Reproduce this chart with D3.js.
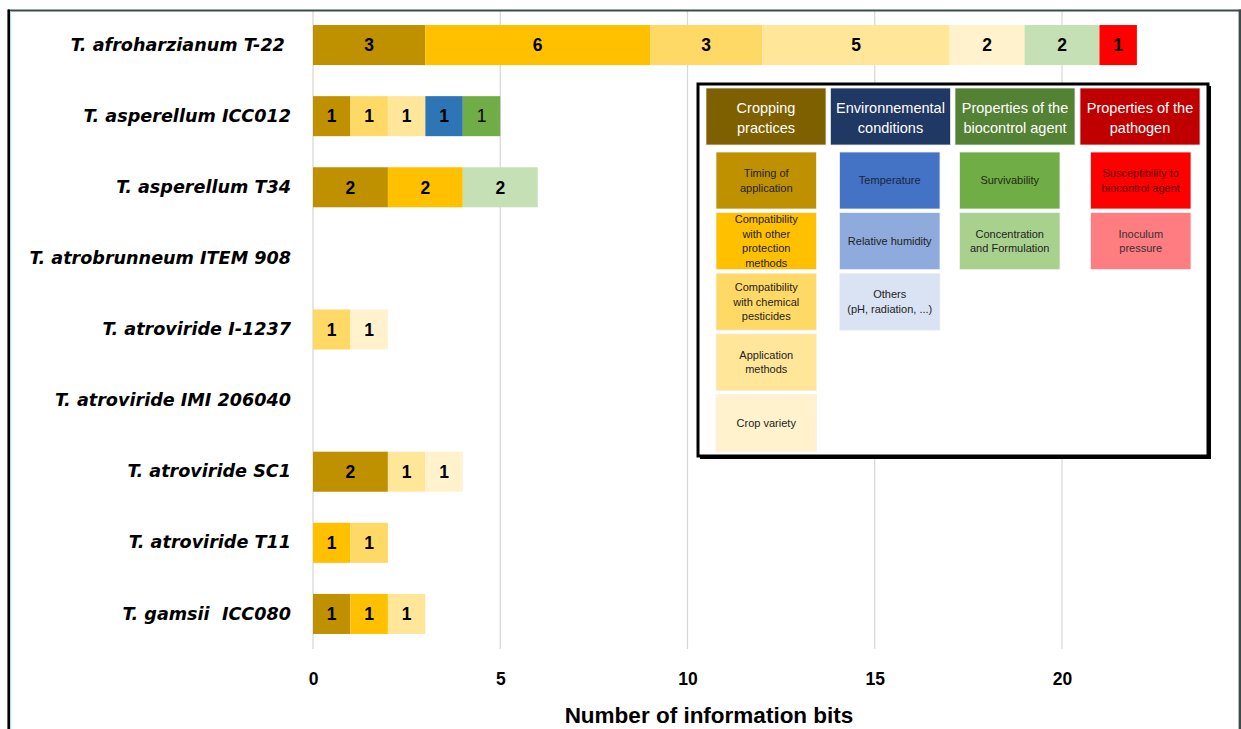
<!DOCTYPE html>
<html>
<head>
<meta charset="utf-8">
<script src="https://cdn.jsdelivr.net/npm/d3@7/dist/d3.min.js"></script>
<style>
  html, body { margin: 0; padding: 0; background: #fff; }
  svg { display: block; }
  text { white-space: pre; }
</style>
</head>
<body>
<svg id="chart" width="1241" height="729"></svg>
<script>
// ---------- DATA ----------
const categories = [
  "T. afroharzianum T-22 ",
  "T. asperellum ICC012",
  "T. asperellum T34",
  "T. atrobrunneum ITEM 908",
  "T. atroviride I-1237",
  "T. atroviride IMI 206040",
  "T. atroviride SC1",
  "T. atroviride T11",
  "T. gamsii  ICC080"
];

const seriesNames = [
  "Timing of application",
  "Compatibility with other protection methods",
  "Compatibility with chemical pesticides",
  "Application methods",
  "Crop variety",
  "Temperature",
  "Relative humidity",
  "Others (pH, radiation, ...)",
  "Survivability",
  "Concentration and Formulation",
  "Susceptibility to biocontrol agent",
  "Inoculum pressure"
];

// values per series, in category order
const timingOfApplication   = [3, 1, 2, 0, 0, 0, 2, 0, 1];
const compatOtherMethods    = [6, 0, 2, 0, 0, 0, 0, 1, 1];
const compatChemPesticides  = [3, 1, 0, 0, 1, 0, 0, 1, 0];
const applicationMethods    = [5, 1, 0, 0, 0, 0, 1, 0, 1];
const cropVariety           = [2, 0, 0, 0, 1, 0, 1, 0, 0];
const temperature           = [0, 1, 0, 0, 0, 0, 0, 0, 0];
const relativeHumidity      = [0, 0, 0, 0, 0, 0, 0, 0, 0];
const othersEnv             = [0, 0, 0, 0, 0, 0, 0, 0, 0];
const survivability         = [0, 1, 0, 0, 0, 0, 0, 0, 0];
const concentrationForm     = [2, 0, 2, 0, 0, 0, 0, 0, 0];
const susceptibility        = [1, 0, 0, 0, 0, 0, 0, 0, 0];
const inoculumPressure      = [0, 0, 0, 0, 0, 0, 0, 0, 0];

const seriesValues = [
  timingOfApplication, compatOtherMethods, compatChemPesticides, applicationMethods,
  cropVariety, temperature, relativeHumidity, othersEnv, survivability,
  concentrationForm, susceptibility, inoculumPressure
];

const xTickValues = [0, 5, 10, 15, 20];
const xAxisTitle = "Number of information bits";

// legend groups
const groupNames = [
  ["Cropping", "practices"],
  ["Environnemental", "conditions"],
  ["Properties of the", "biocontrol agent"],
  ["Properties of the", "pathogen"]
];
const seriesGroup = [0, 0, 0, 0, 0, 1, 1, 1, 2, 2, 3, 3];
const legendLines = [
  ["Timing of", "application"],
  ["Compatibility", "with other", "protection", "methods"],
  ["Compatibility", "with chemical", "pesticides"],
  ["Application", "methods"],
  ["Crop variety"],
  ["Temperature"],
  ["Relative humidity"],
  ["Others", "(pH, radiation, ...)"],
  ["Survivability"],
  ["Concentration", "and Formulation"],
  ["Susceptibility to", "biocontrol agent"],
  ["Inoculum", "pressure"]
];

// ---------- STYLES ----------
const barColors = ["#BF9000", "#FFC000", "#FFD966", "#FFE699", "#FFF2CC",
                   "#2E75B6", "#8FAADC", "#DAE3F3", "#70AD47", "#C5E0B4",
                   "#FF0000", "#FF7C80"];
const legendColors = ["#BF9000", "#FFC000", "#FFD966", "#FFE699", "#FFF2CC",
                      "#4472C4", "#8FAADC", "#DAE3F3", "#70AD47", "#A9D18E",
                      "#FF0000", "#FF7C80"];
const legendTextColors = ["#222", "#222", "#222", "#222", "#222",
                          "#1a2540", "#222", "#222", "#1e2a10", "#222",
                          "#5a0000", "#333"];
const groupColors = ["#7F6000", "#203864", "#548235", "#C00000"];

const svg = d3.select("#chart");

// ---------- SCALES ----------
const x = d3.scaleLinear().domain([0, 25]).range([313, 313 + 25 * 37.45]);
const y = d3.scaleBand().domain(categories).range([9.5, 649.5]).paddingInner(0.437).paddingOuter(0.437 / 2);

// ---------- GRID ----------
const grid = svg.append("g");
grid.selectAll("line").data(xTickValues).join("line")
  .attr("x1", d => x(d)).attr("x2", d => x(d))
  .attr("y1", 10).attr("y2", 649)
  .attr("stroke", "#d9d9d9").attr("stroke-width", 1.3);

// ---------- STACKED BARS ----------
const rows = categories.map((c, i) => {
  const o = { cat: c };
  seriesNames.forEach((s, k) => { o[s] = seriesValues[k][i]; });
  return o;
});
const stack = d3.stack().keys(seriesNames)(rows);

const layers = svg.append("g").selectAll("g").data(stack).join("g")
  .attr("fill", (d, k) => barColors[k]);

layers.selectAll("rect").data(d => d.filter(p => p[1] - p[0] > 0)).join("rect")
  .attr("x", p => x(p[0]))
  .attr("y", p => y(p.data.cat))
  .attr("width", p => x(p[1]) - x(p[0]))
  .attr("height", y.bandwidth());

layers.each(function(layer, k) {
  d3.select(this).selectAll("text").data(layer.filter(p => p[1] - p[0] > 0)).join("text")
    .attr("x", p => (x(p[0]) + x(p[1])) / 2)
    .attr("y", p => y(p.data.cat) + y.bandwidth() / 2)
    .attr("dy", "0.36em")
    .attr("text-anchor", "middle")
    .attr("fill", "#000")
    .attr("font-family", "'Liberation Sans', Arial, sans-serif")
    .attr("font-weight", k === 8 ? "normal" : "bold")
    .attr("font-size", 17.5)
    .text(p => p[1] - p[0]);
});

// ---------- Y AXIS LABELS ----------
const yAxis = d3.axisLeft(y).tickSize(0).tickPadding(0);
const yg = svg.append("g").attr("transform", "translate(291,0)").call(yAxis);
yg.select(".domain").remove();
yg.selectAll("text")
  .attr("font-family", "'DejaVu Sans', Verdana, sans-serif")
  .attr("font-weight", "bold")
  .attr("font-style", "italic")
  .attr("font-size", 17.6)
  .attr("fill", "#000");

// ---------- X AXIS ----------
const xAxis = d3.axisBottom(x).tickValues(xTickValues).tickSize(0).tickPadding(0);
const xg = svg.append("g").attr("transform", "translate(0,673)").call(xAxis);
xg.select(".domain").remove();
xg.selectAll("text")
  .attr("font-family", "'Liberation Sans', Arial, sans-serif")
  .attr("font-weight", "bold")
  .attr("font-size", 17.5)
  .attr("fill", "#000");

svg.append("text")
  .attr("x", 709).attr("y", 723)
  .attr("text-anchor", "middle")
  .attr("font-family", "'Liberation Sans', Arial, sans-serif")
  .attr("font-weight", "bold")
  .attr("font-size", 22.5)
  .attr("fill", "#000")
  .text(xAxisTitle);

// ---------- OUTER FRAME ----------
svg.append("line").attr("x1", 8).attr("x2", 1241).attr("y1", 10.5).attr("y2", 10.5)
  .attr("stroke", "#3f4a4a").attr("stroke-width", 2);
svg.append("line").attr("x1", 8.7).attr("x2", 8.7).attr("y1", 9.5).attr("y2", 729)
  .attr("stroke", "#000").attr("stroke-width", 2.6);
svg.append("line").attr("x1", 10.6).attr("x2", 10.6).attr("y1", 11).attr("y2", 729)
  .attr("stroke", "#9fe0e0").attr("stroke-width", 1);
svg.append("line").attr("x1", 1239.8).attr("x2", 1239.8).attr("y1", 9.5).attr("y2", 729)
  .attr("stroke", "#3f4a4a").attr("stroke-width", 2.4);

// ---------- LEGEND ----------
const lg = svg.append("g");
lg.append("rect").attr("x", 700).attr("y", 86).attr("width", 511).attr("height", 373)
  .attr("fill", "#000");
lg.append("rect").attr("x", 698).attr("y", 84).attr("width", 510).attr("height", 372)
  .attr("fill", "#fff").attr("stroke", "#000").attr("stroke-width", 3);

const headX = [706, 830.5, 955, 1080];
const headW = 120;
const headG = lg.selectAll("g.head").data(groupNames).join("g").attr("class", "head");
headG.append("rect")
  .attr("x", (d, i) => headX[i]).attr("y", 88)
  .attr("width", headW).attr("height", 57)
  .attr("fill", (d, i) => groupColors[i])
  .attr("stroke", "#e8e8e8").attr("stroke-width", 0.8);
headG.each(function(lines, i) {
  d3.select(this).selectAll("text").data(lines).join("text")
    .attr("x", headX[i] + headW / 2)
    .attr("y", (t, j) => 113 + j * 19.5)
    .attr("text-anchor", "middle")
    .attr("font-family", "'Liberation Sans Narrow', 'Liberation Sans', Arial, sans-serif")
    .attr("font-size", 14.5)
    .attr("fill", "#fff")
    .text(t => t);
});

const subX = [716, 839.5, 959.5, 1090.5];
const subW = 100.5;
const subH = 57;
const rowInGroup = seriesNames.map((s, k) => seriesGroup.slice(0, k).filter(g => g === seriesGroup[k]).length);
const subG = lg.selectAll("g.sub").data(seriesNames).join("g").attr("class", "sub");
subG.append("rect")
  .attr("x", (d, k) => subX[seriesGroup[k]])
  .attr("y", (d, k) => 152 + rowInGroup[k] * 60.6)
  .attr("width", subW).attr("height", subH)
  .attr("fill", (d, k) => legendColors[k])
  .attr("stroke", "#f2f2f2").attr("stroke-width", 0.8);
subG.each(function(name, k) {
  const lines = legendLines[k];
  const cy = 152 + rowInGroup[k] * 60.6 + subH / 2;
  const lh = 14.6;
  d3.select(this).selectAll("text").data(lines).join("text")
    .attr("x", subX[seriesGroup[k]] + subW / 2)
    .attr("y", (t, j) => cy + (j - (lines.length - 1) / 2) * lh)
    .attr("dy", "0.35em")
    .attr("text-anchor", "middle")
    .attr("font-family", "'Liberation Sans Narrow', 'Liberation Sans', Arial, sans-serif")
    .attr("font-size", 11)
    .attr("fill", legendTextColors[k])
    .text(t => t);
});
</script>
</body>
</html>
